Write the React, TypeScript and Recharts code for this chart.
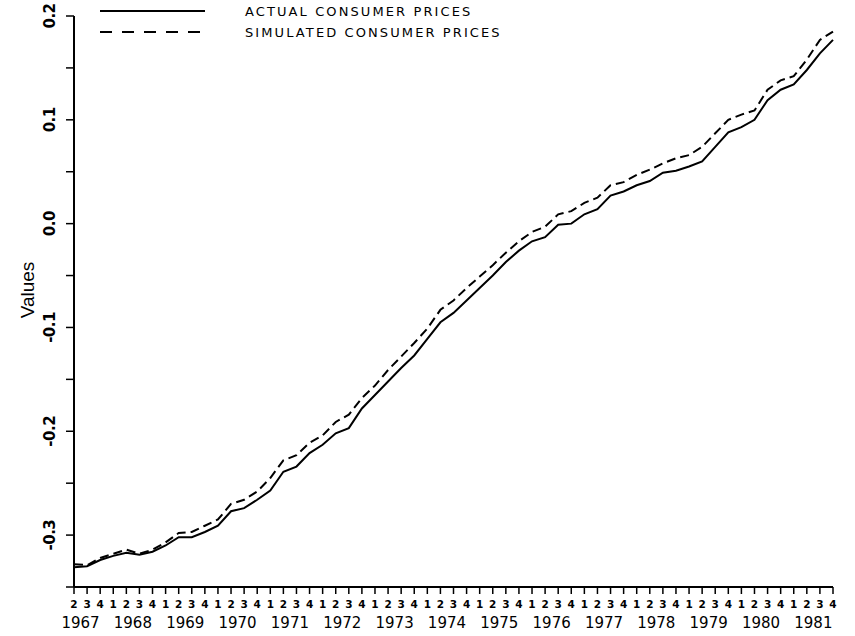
import React from 'react';
import { LineChart, Line, XAxis, YAxis, Legend } from 'recharts';

// Tick labels
const years = [1967, 1968, 1969, 1970, 1971, 1972, 1973, 1974, 1975, 1976, 1977, 1978, 1979, 1980, 1981];
const quarterLabels = ['1', '2', '3', '4'];
const firstQuarterIndex = 1; // series starts in quarter 2 of 1967

// Series values (log consumer prices)
const actualPrices = [
  -0.331, -0.330, -0.324,
  -0.320, -0.317, -0.319, -0.316,
  -0.310, -0.302, -0.302, -0.297,
  -0.291, -0.277, -0.274, -0.266,
  -0.257, -0.239, -0.234, -0.221,
  -0.213, -0.202, -0.197, -0.178,
  -0.165, -0.152, -0.139, -0.127,
  -0.111, -0.095, -0.086, -0.074,
  -0.062, -0.050, -0.037, -0.026,
  -0.017, -0.013, -0.001, 0.000,
  0.009, 0.014, 0.027, 0.031,
  0.037, 0.041, 0.049, 0.051,
  0.055, 0.060, 0.074, 0.088,
  0.093, 0.100, 0.119, 0.129,
  0.134, 0.148, 0.164, 0.177,
];

const simulatedPrices = [
  -0.328, -0.329, -0.322,
  -0.318, -0.314, -0.318, -0.314,
  -0.307, -0.298, -0.297, -0.291,
  -0.285, -0.270, -0.266, -0.258,
  -0.245, -0.228, -0.223, -0.211,
  -0.204, -0.191, -0.184, -0.168,
  -0.156, -0.141, -0.128, -0.115,
  -0.101, -0.083, -0.074, -0.062,
  -0.051, -0.040, -0.028, -0.017,
  -0.008, -0.003, 0.009, 0.012,
  0.020, 0.025, 0.037, 0.040,
  0.047, 0.052, 0.058, 0.063,
  0.066, 0.074, 0.087, 0.100,
  0.105, 0.109, 0.129, 0.138,
  0.142, 0.158, 0.177, 0.185,
];

const yTicks = [-0.35, -0.3, -0.25, -0.2, -0.15, -0.1, -0.05, 0, 0.05, 0.1, 0.15, 0.2];

const data: { key: string; year: number; quarter: string; actual: number; simulated: number }[] = [];
{
  let n = 0;
  years.forEach((y, yi) => {
    quarterLabels.forEach((q, qi) => {
      if (yi === 0 && qi < firstQuarterIndex) return;
      data.push({
        key: `${y}-${q}`,
        year: y,
        quarter: q,
        actual: actualPrices[n],
        simulated: simulatedPrices[n],
      });
      n += 1;
    });
  });
}

const W = 855;
const H = 636;
const STEP = (833 - 74) / (data.length - 1);

const XTick = (props: any) => {
  const { x, y, payload } = props;
  const d = data.find((r) => r.key === payload.value);
  if (!d) return null;
  return (
    <g>
      <text
        x={x}
        y={y + 12}
        textAnchor="middle"
        fontFamily="DejaVu Sans"
        fontWeight="bold"
        fontSize={10.5}
        fill="#000"
      >
        {d.quarter}
      </text>
      {d.quarter === '2' && (
        <text
          x={x + STEP / 2}
          y={y + 32}
          textAnchor="middle"
          fontFamily="DejaVu Sans"
          fontSize={15}
          fill="#000"
        >
          {d.year}
        </text>
      )}
    </g>
  );
};

const YTick = (props: any) => {
  const { y, payload } = props;
  const v = payload.value as number;
  const major = Math.round(v * 100) % 10 === 0;
  if (!major) return null;
  const label = Math.abs(v) < 1e-9 ? '0.0' : v.toFixed(1);
  const cx = 50;
  return (
    <text
      x={cx}
      y={y}
      transform={`rotate(-90, ${cx}, ${y})`}
      textAnchor="middle"
      dominantBaseline="central"
      fontFamily="DejaVu Sans"
      fontWeight="bold"
      fontSize={15}
      letterSpacing={-0.5}
      fill="#000"
    >
      {label}
    </text>
  );
};

const LegendContent = () => (
  <svg width={520} height={44} style={{ display: 'block' }}>
    <line x1={100} y1={11} x2={205} y2={11} stroke="#000" strokeWidth={2} />
    <line x1={100} y1={32} x2={205} y2={32} stroke="#000" strokeWidth={2} strokeDasharray="12 10" />
    <text x={245} y={16} fontFamily="DejaVu Sans" fontSize={13} letterSpacing={2.1} fill="#000">
      ACTUAL CONSUMER PRICES
    </text>
    <text x={245} y={37} fontFamily="DejaVu Sans" fontSize={13} letterSpacing={2.1} fill="#000">
      SIMULATED CONSUMER PRICES
    </text>
  </svg>
);

export default function App() {
  return (
    <div style={{ position: 'absolute', left: 0, top: 0, width: W, height: H, background: '#fff' }}>
      <LineChart width={W} height={H} data={data} margin={{ top: 16, right: 22, bottom: 0, left: 0 }}>
        <XAxis
          dataKey="key"
          interval={0}
          height={49}
          tick={<XTick />}
          tickSize={7}
          tickMargin={2}
          axisLine={{ stroke: '#000', strokeWidth: 2 }}
          tickLine={{ stroke: '#000', strokeWidth: 1.5 }}
        />
        <YAxis
          type="number"
          domain={[-0.35, 0.2]}
          ticks={yTicks}
          interval={0}
          width={74}
          tickSize={8}
          tick={<YTick />}
          axisLine={{ stroke: '#000', strokeWidth: 2 }}
          tickLine={{ stroke: '#000', strokeWidth: 1.5 }}
          label={() => (
            <text
              x={27}
              y={290}
              transform="rotate(-90, 27, 290)"
              textAnchor="middle"
              dominantBaseline="central"
              fontFamily="Liberation Sans"
              fontSize={19}
              fill="#000"
            >
              Values
            </text>
          )}
        />
        <Legend
          layout="horizontal"
          verticalAlign="middle"
          align="center"
          wrapperStyle={{ position: 'absolute', top: 0, left: 0, width: 520, height: 44 }}
          content={<LegendContent />}
        />
        <Line
          type="linear"
          dataKey="actual"
          name="ACTUAL CONSUMER PRICES"
          stroke="#000"
          strokeWidth={2}
          dot={false}
          isAnimationActive={false}
        />
        <Line
          type="linear"
          dataKey="simulated"
          name="SIMULATED CONSUMER PRICES"
          stroke="#000"
          strokeWidth={2}
          strokeDasharray="9 5"
          dot={false}
          isAnimationActive={false}
        />
      </LineChart>
    </div>
  );
}
